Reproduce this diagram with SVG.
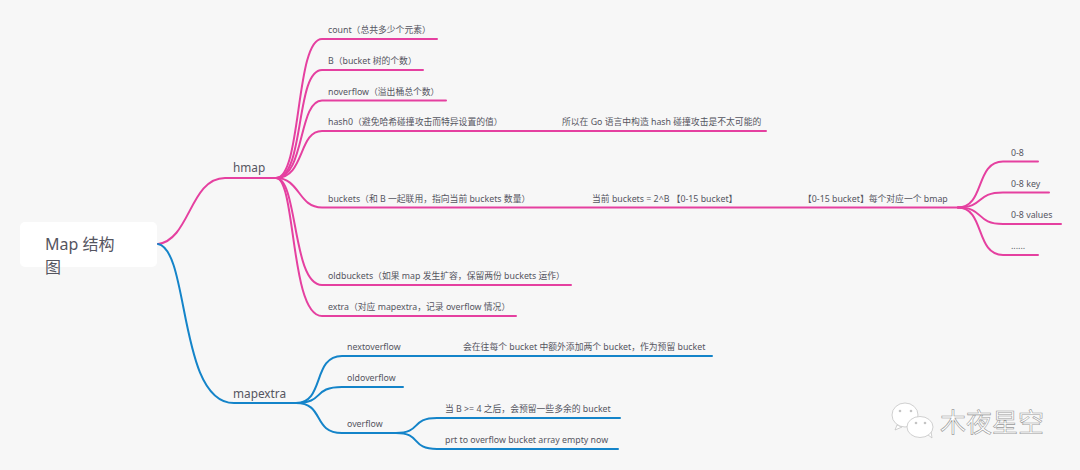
<svg xmlns="http://www.w3.org/2000/svg" width="1080" height="470" viewBox="0 0 1080 470">
<style>
text{font-family:"Noto Sans","Noto Sans CJK SC",sans-serif;fill:#55555f}
.t{font-size:8.800px}
.m{font-size:11.800px}
.r{font-size:16px}
.p,.b{fill:none;stroke-width:2;stroke-linecap:round}
.p{stroke:#e540a0}
.b{stroke:#1484c9}
.w{fill:#fff;stroke:#c4c4c4;stroke-width:.8}
.d{fill:#c4c4c4}
</style>
<rect width="1080" height="470" fill="#f7f7f7"/>
<g id="connectors">
<path class="p" d="M158 244C190 240 190 178 225 178H276"/>
<path class="b" d="M158 244C190 250 178 403 234 403H296"/>
<path class="p" d="M276 178C302 178 295 39 322 39H437"/>
<path class="p" d="M276 178C305 178 295 70 322 70H423"/>
<path class="p" d="M276 178C305 178 298 100.500 322 100.500H446"/>
<path class="p" d="M276 178C305 178 298 131 322 131H766"/>
<path class="p" d="M276 178C300 178 298 207.500 322 207.500H958"/>
<path class="p" d="M276 178C298 178 292 285 322 285H571"/>
<path class="p" d="M276 178C296 178 290 316 322 316H516"/>
<path class="p" d="M958 207.500C985 207.500 975 161.500 1003 161.500H1038"/>
<path class="p" d="M958 207.500C985 207.500 975 192.500 1003 192.500H1049"/>
<path class="p" d="M958 207.500C985 207.500 975 224 1003 224H1061"/>
<path class="p" d="M958 207.500C985 207.500 975 255 1003 255H1038"/>
<path class="b" d="M296 403C325 403 312 356 342 356H712"/>
<path class="b" d="M296 403C325 403 312 387 342 387H403"/>
<path class="b" d="M296 403C325 403 312 433 342 433H396"/>
<path class="b" d="M396 433C422 433 410 418 437 418H620"/>
<path class="b" d="M396 433C422 433 410 449 437 449H618"/>
</g>
<g id="root"><rect x="20" y="222" width="137" height="45" rx="5" fill="#fff"/><text class="r" x="45" y="250">Map 结构</text><text class="r" x="45" y="273">图</text></g>
<g id="hmap"><text class="m" x="233" y="172">hmap</text></g>
<g id="mapextra"><text class="m" x="233" y="398">mapextra</text></g>
<g id="count"><text class="t" x="328" y="33">count（总共多少个元素）</text></g>
<g id="b"><text class="t" x="328" y="64">B（bucket 树的个数）</text></g>
<g id="noverflow"><text class="t" x="328" y="95">noverflow（溢出桶总个数）</text></g>
<g id="hash0"><text class="t" x="328" y="125">hash0（避免哈希碰撞攻击而特异设置的值）</text></g>
<g id="hash0-note"><text class="t" x="562" y="125">所以在 Go 语言中构造 hash 碰撞攻击是不太可能的</text></g>
<g id="buckets"><text class="t" x="328" y="202">buckets（和 B 一起联用，指向当前 buckets 数量）</text></g>
<g id="buckets-count"><text class="t" x="592" y="202">当前 buckets = 2^B 【0-15 bucket】</text></g>
<g id="buckets-bmap"><text class="t" x="803" y="202">【0-15 bucket】每个对应一个 bmap</text></g>
<g id="b-08"><text class="t" x="1011" y="156">0-8</text></g>
<g id="b-key"><text class="t" x="1011" y="187">0-8 key</text></g>
<g id="b-values"><text class="t" x="1011" y="218">0-8 values</text></g>
<g id="b-more"><text class="t" x="1011" y="249">......</text></g>
<g id="oldbuckets"><text class="t" x="328" y="279">oldbuckets（如果 map 发生扩容，保留两份 buckets 运作）</text></g>
<g id="extra"><text class="t" x="328" y="310">extra（对应 mapextra，记录 overflow 情况）</text></g>
<g id="nextoverflow"><text class="t" x="347" y="350">nextoverflow</text></g>
<g id="nextoverflow-note"><text class="t" x="463" y="350">会在往每个 bucket 中额外添加两个 bucket，作为预留 bucket</text></g>
<g id="oldoverflow"><text class="t" x="347" y="381">oldoverflow</text></g>
<g id="overflow"><text class="t" x="347" y="427">overflow</text></g>
<g id="overflow-a"><text class="t" x="445" y="412">当 B &gt;= 4 之后，会预留一些多余的 bucket</text></g>
<g id="overflow-b"><text class="t" x="445" y="443">prt to overflow bucket array empty now</text></g>
<g id="watermark">
<path class="w" d="M897 425l-2 5 7-3z"/>
<ellipse class="w" cx="905" cy="415" rx="13" ry="12"/>
<path class="w" d="M927 434l5 4-1-7z"/>
<ellipse class="w" cx="920" cy="427" rx="13" ry="10.500"/>
<circle class="d" cx="900" cy="411" r="1.300"/><circle class="d" cx="911" cy="411" r="1.300"/>
<circle class="d" cx="916" cy="423" r="1.300"/><circle class="d" cx="925" cy="423" r="1.300"/>
<text x="940" y="432" font-size="26" style="fill:#fff;stroke:#999;stroke-width:.6">木夜星空</text>
</g>
</svg>
